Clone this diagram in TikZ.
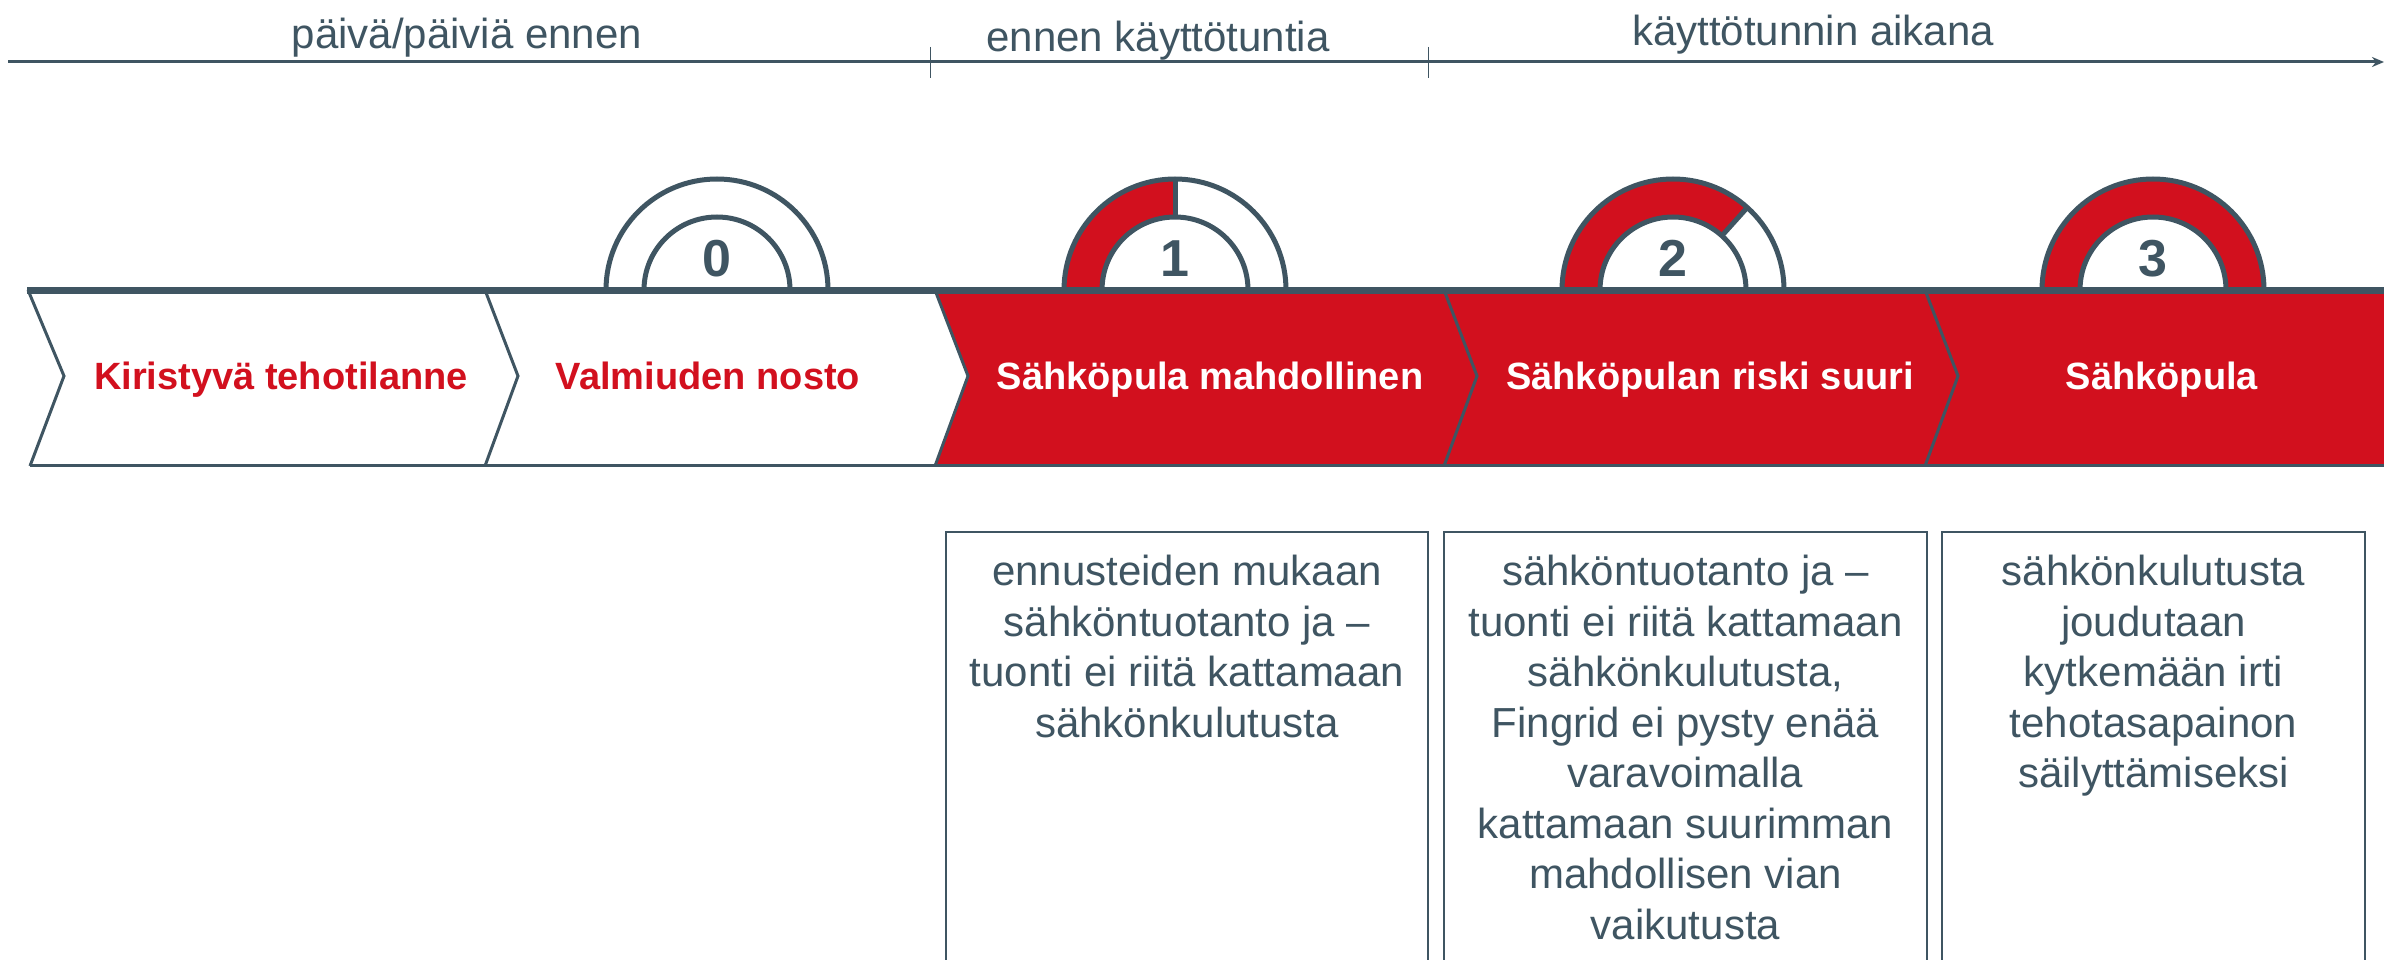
\documentclass[tikz,border=0pt]{standalone}
\usepackage{fontspec}
\setmainfont{Liberation Sans}
\usetikzlibrary{arrows.meta}
\definecolor{fgred}{HTML}{D2101E}
\definecolor{fgdark}{HTML}{3F5562}
\begin{document}
\begin{tikzpicture}[x=1pt,y=-1pt,
  headtext/.style={font=\fontsize{42}{50}\selectfont, text=fgdark, inner sep=0pt, anchor=base},
  bandtext/.style={font=\fontsize{38}{46}\selectfont\bfseries, inner sep=0pt, anchor=base},
  digit/.style={font=\fontsize{52}{60}\selectfont\bfseries, text=fgdark, inner sep=0pt, anchor=base},
  boxtext/.style={font=\fontsize{42}{50.5}\selectfont, text=fgdark, inner sep=0pt, anchor=north, align=center},
  sepline/.style={draw=fgdark, line width=3pt, line join=miter},
  descbox/.style={draw=fgdark, line width=2pt, line join=miter},
  ring/.style={draw=fgdark, line width=5pt},
  redring/.style={draw=fgred, line width=38pt},
]
\fill[white] (0,0) rectangle (2384,960);
\useasboundingbox (0,0) rectangle (2384,960);

% time axis
\coordinate (axL) at (8,62);
\coordinate (axR) at (2384,62);
\draw[fgdark, line width=3pt, -{Stealth[length=12pt,width=10pt]}] (axL) -- (axR);
\coordinate (t1a) at (930,47); \coordinate (t1b) at (930,78);
\coordinate (t2a) at (1428,47); \coordinate (t2b) at (1428,78);
\draw[fgdark, line width=1pt] (t1a) -- (t1b);
\draw[fgdark, line width=1pt] (t2a) -- (t2b);
\node[headtext] (h1) at (467,49) {päivä/päiviä ennen};
\node[headtext] (h2) at (1158,52) {ennen käyttötuntia};
\node[headtext] (h3) at (1813,46) {käyttötunnin aikana};

% band
\fill[fgred] (935,290) -- (2384,290) -- (2384,466) -- (935,466) -- (968,376) -- cycle;
\draw[sepline] (28,290) -- (64,376) -- (30,466);
\draw[sepline] (485,290) -- (518,376) -- (485,466);
\draw[sepline] (935,290) -- (968,376) -- (935,466);
\draw[sepline] (1444,290) -- (1477,376) -- (1444,466);
\draw[sepline] (1925,290) -- (1958,376) -- (1925,466);
\draw[fgdark, line width=3pt] (30,465.5) -- (2384,465.5);

% gauges
\coordinate (g0) at (717,290);
\coordinate (g1) at (1175,290);
\coordinate (g2) at (1673,290);
\coordinate (g3) at (2153,290);
\draw[redring] ([shift={(180:92pt)}]g1) arc[start angle=180, end angle=90, radius=92pt];
\draw[redring] ([shift={(180:92pt)}]g2) arc[start angle=180, end angle=48, radius=92pt];
\draw[redring] ([shift={(180:92pt)}]g3) arc[start angle=180, end angle=0, radius=92pt];
\foreach \g in {g0,g1,g2,g3}{
  \draw[ring] ([shift={(180:111pt)}]\g) arc[start angle=180, end angle=0, radius=111pt];
  \draw[ring] ([shift={(180:73pt)}]\g) arc[start angle=180, end angle=0, radius=73pt];
}
\draw[ring] ([shift={(90:73pt)}]g1) -- ([shift={(90:111pt)}]g1);
\draw[ring] ([shift={(48:73pt)}]g2) -- ([shift={(48:111pt)}]g2);
\node[digit] (d0) at (717,276) {0};
\node[digit] (d1) at (1175,276) {1};
\node[digit] (d2) at (1673,276) {2};
\node[digit] (d3) at (2153,276) {3};

\draw[fgdark, line width=7pt] (27,290) -- (2384,290);

% band labels
\node[bandtext, text=fgred] (s0) at (281,389) {Kiristyvä tehotilanne};
\node[bandtext, text=fgred] (s1) at (708,389) {Valmiuden nosto};
\node[bandtext, text=white] (s2) at (1210,389) {Sähköpula mahdollinen};
\node[bandtext, text=white] (s3) at (1710,389) {Sähköpulan riski suuri};
\node[bandtext, text=white] (s4) at (2162,389) {Sähköpula};

% description boxes
\draw[descbox] (946,964) -- (946,532) -- (1428,532) -- (1428,964);
\draw[descbox] (1444,964) -- (1444,532) -- (1927,532) -- (1927,964);
\draw[descbox] (1942,964) -- (1942,532) -- (2365,532) -- (2365,964);
\node[boxtext] (b1) at (1187,555) {ennusteiden mukaan\\sähköntuotanto ja –\\tuonti ei riitä kattamaan\\sähkönkulutusta};
\node[boxtext] (b2) at (1685.5,555) {sähköntuotanto ja –\\tuonti ei riitä kattamaan\\sähkönkulutusta,\\Fingrid ei pysty enää\\varavoimalla\\kattamaan suurimman\\mahdollisen vian\\vaikutusta};
\node[boxtext] (b3) at (2153.5,555) {sähkönkulutusta\\joudutaan\\kytkemään irti\\tehotasapainon\\säilyttämiseksi};
\end{tikzpicture}
\end{document}
